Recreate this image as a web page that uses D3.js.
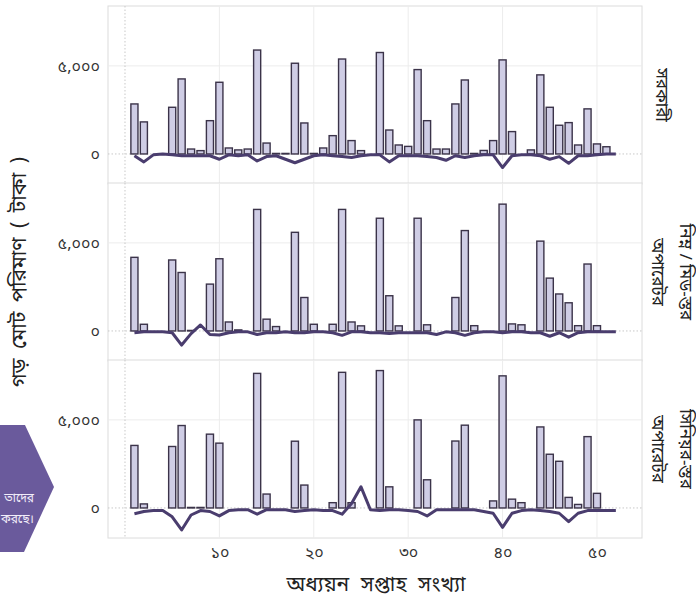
<!DOCTYPE html>
<html><head><meta charset="utf-8">
<script src="https://cdn.jsdelivr.net/npm/d3@7"></script>
<style>
body{margin:0;background:#fff;}
svg text{font-family:"Noto Sans Bengali","Noto Serif Bengali","Lohit Bengali","Mukti","Vrinda",sans-serif;}
</style></head>
<body><svg id="c" width="696" height="604"></svg>
<script>
const weeks = d3.range(1, 53);
const panelLabels = [["সরকারী"], ["নিম্ন / মিড-স্তর", "অপারেটর"], ["সিনিয়র-স্তর", "অপারেটর"]];
const xTickValues = [10, 20, 30, 40, 50];
const xTickLabels = ["১০", "২০", "৩০", "৪০", "৫০"];
const yTickValues = [0, 5000];
const yTickLabels = ["০", "৫,০০০"];
const xTitle = "অধ্যয়ন সপ্তাহ সংখ্যা";
const yTitle = "গড় মোট পরিমাণ ( টাকা )";
const calloutLines = ["তাদের", "করছে।"];

const bars1 = [2840,1820,0,0,2650,4260,280,190,1890,4070,340,230,280,5900,620,30,30,5150,1760,30,340,1040,5390,760,190,0,5760,1360,510,430,4790,1890,280,280,2840,4200,30,200,760,5340,1270,0,230,4490,2650,1630,1780,510,2560,570,410,0];
const bars2 = [4180,380,0,0,4030,3320,30,0,2660,4100,510,60,0,6900,670,250,0,5600,1900,380,0,380,6900,510,290,0,6400,2000,290,0,6400,350,0,0,1900,5700,300,0,0,7200,400,350,0,5100,3000,2100,1600,300,3800,300,0,0];
const bars3 = [3550,230,0,0,3490,4680,30,30,4190,3680,0,0,0,7640,790,0,0,3790,1300,0,0,300,7700,300,0,0,7800,1200,0,0,5000,1600,0,0,3800,4700,0,0,400,7500,500,300,0,4600,3050,2650,600,200,4050,830,0,0];
const line1 = [-100,-450,-50,0,-50,-100,-100,-100,-100,-300,-50,-100,-50,-400,-150,-100,-300,-500,-300,-100,-50,-100,-150,-200,-100,-50,-50,-450,-100,-100,-100,-150,-200,-360,-100,-200,-100,-50,-50,-770,-100,-50,-50,-100,-300,-150,-530,-100,-100,-50,0,0];
const line2 = [-100,-50,-50,-50,-100,-800,-150,340,-200,-230,-100,-50,-50,-200,-100,-100,-50,-100,-100,-50,-50,-100,-250,-50,-50,-100,-100,-150,-100,-100,-100,-100,-200,-50,-100,-250,-100,-50,-50,-100,-50,-50,-100,-100,-300,-100,-350,-100,-50,-50,-50,-50];
const line3 = [-330,-200,-150,-150,-500,-1250,-400,-150,-200,-450,-150,-100,-100,-350,-100,-100,-100,-200,-150,-100,-150,-150,-350,250,1200,-100,-150,-100,-100,-150,-200,-450,-100,-100,-100,-100,-100,-200,-300,-1100,-300,-150,-100,-150,-200,-300,-780,-300,-150,-150,-150,-150];

const barsAll = [bars1, bars2, bars3];
const linesAll = [line1, line2, line3];

const svg = d3.select("#c");
const left = 108, right = 642;
const panelTop = [6, 183, 360], panelH = 178;
const x = d3.scaleLinear().domain([-1.8, 54.77]).range([left, right]);
const barW = 0.75 * (x(1) - x(0));

panelTop.forEach((top, i) => {
  const y = d3.scaleLinear().domain([-1705, 8400]).range([top + panelH, top]);
  const g = svg.append("g");
  g.append("rect").attr("x", left).attr("y", top).attr("width", right - left).attr("height", panelH)
    .attr("fill", "#fff").attr("stroke", "#dcdcdc").attr("stroke-width", 1);
  g.selectAll(".vg").data(xTickValues).join("line")
    .attr("x1", d => x(d)).attr("x2", d => x(d)).attr("y1", top).attr("y2", top + panelH)
    .attr("stroke", "#ececec").attr("stroke-width", 1);
  g.append("line").attr("x1", left).attr("x2", right).attr("y1", y(5000)).attr("y2", y(5000))
    .attr("stroke", "#ececec").attr("stroke-width", 1);
  g.append("line").attr("x1", x(0)).attr("x2", x(0)).attr("y1", top).attr("y2", top + panelH)
    .attr("stroke", "#c8c8c8").attr("stroke-dasharray", "1.5,2");
  g.append("line").attr("x1", left).attr("x2", right).attr("y1", y(0)).attr("y2", y(0))
    .attr("stroke", "#c8c8c8").attr("stroke-dasharray", "1.5,2");
  g.selectAll(".bar").data(weeks.map((w, k) => ({w, v: barsAll[i][k]})).filter(d => d.v > 0)).join("rect")
    .attr("x", d => x(d.w) - barW / 2).attr("width", barW)
    .attr("y", d => y(d.v)).attr("height", d => y(0) - y(d.v))
    .attr("fill", "#cfcde5").attr("stroke", "#3b3349").attr("stroke-width", 1.4);
  const ln = d3.line().x(d => x(d.w)).y(d => y(d.v));
  g.append("path").datum(weeks.map((w, k) => ({w, v: linesAll[i][k]})))
    .attr("d", ln).attr("fill", "none").attr("stroke", "#4a3d6e").attr("stroke-width", 3).attr("stroke-linejoin", "round");
  const ya = d3.axisLeft(y).tickValues(yTickValues).tickFormat((d, k) => yTickLabels[k]).tickSize(0).tickPadding(8);
  const ag = g.append("g").attr("transform", `translate(${left},0)`).call(ya);
  ag.select(".domain").remove();
  ag.selectAll("text").attr("font-size", 16).attr("fill", "#333").attr("font-family", null);
  const lines = panelLabels[i];
  const cy = top + panelH / 2;
  lines.forEach((t, k) => {
    const xx = lines.length === 1 ? 660 : (k === 0 ? 684 : 656);
    svg.append("text").attr("transform", `translate(${xx},${cy}) rotate(90)`)
      .attr("text-anchor", "middle").attr("dominant-baseline", "central")
      .attr("font-size", 17).attr("fill", "#222").text(t);
  });
});

const xa = d3.axisBottom(x).tickValues(xTickValues).tickFormat((d, k) => xTickLabels[k]).tickSize(0).tickPadding(9);
const xg = svg.append("g").attr("transform", `translate(0,${panelTop[2] + panelH})`).call(xa);
xg.select(".domain").remove();
xg.selectAll("text").attr("font-size", 16).attr("fill", "#333").attr("font-family", null);

svg.append("text").attr("x", 376).attr("y", 591).attr("text-anchor", "middle")
  .attr("font-size", 21).attr("word-spacing", 6).attr("fill", "#222").text(xTitle);
svg.append("text").attr("transform", "translate(21,272) rotate(-90)").attr("text-anchor", "middle")
  .attr("dominant-baseline", "central").attr("font-size", 21).attr("word-spacing", 4).attr("fill", "#222").text(yTitle);

svg.append("path").attr("d", "M-5,425 L25,425 L54,487 L24,552 L-5,552 Z").attr("fill", "#6a5a9c");
calloutLines.forEach((t, k) => {
  svg.append("text").attr("x", 34).attr("y", 502 + k * 21).attr("text-anchor", "end")
    .attr("font-size", 12).attr("fill", "#f2eefa").text(t);
});
</script></body></html>
